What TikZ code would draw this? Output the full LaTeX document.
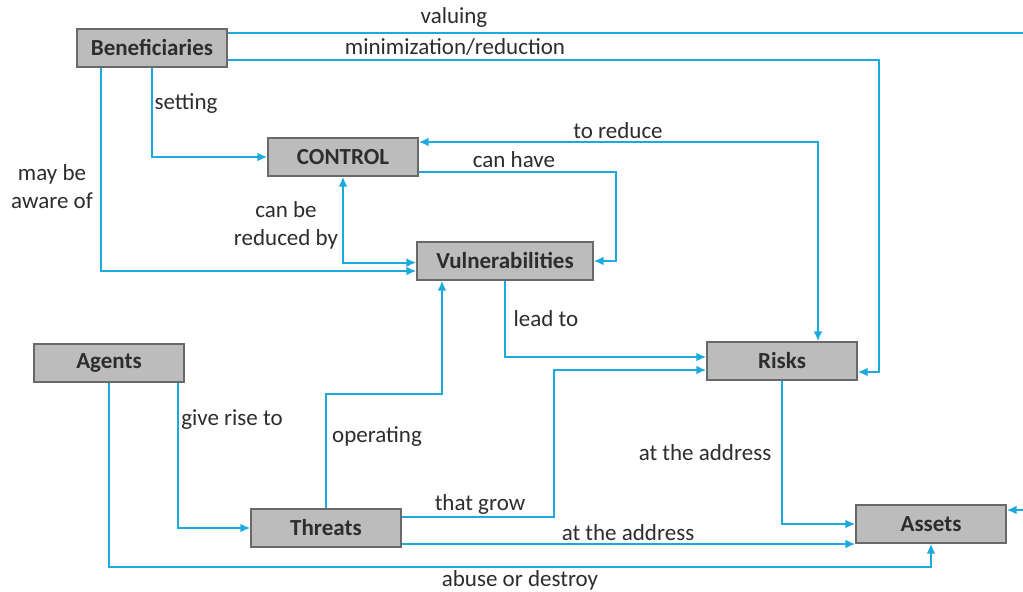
\documentclass[tikz,border=0pt]{standalone}
\usepackage{fontspec}
\setmainfont{Carlito}
\usetikzlibrary{arrows.meta}

\definecolor{linkblue}{RGB}{28,170,222}
\definecolor{boxgray}{RGB}{188,188,188}
\definecolor{boxline}{RGB}{105,105,105}
\definecolor{txtgray}{RGB}{45,45,45}

\tikzset{
	box/.style = {draw = boxline, fill = boxgray, line width = 0.7pt, minimum width = 75pt, minimum height = 19pt, inner sep = 0pt, font = \fontsize{11.5}{13}\selectfont\bfseries, text = txtgray},
	link/.style = {draw = linkblue, line width = 1pt, -{Latex[length = 5pt, width = 4.5pt]}},
	both/.style = {link, {Latex[length = 5pt, width = 4.5pt]}-{Latex[length = 5pt, width = 4.5pt]}},
	lbl/.style = {font = \fontsize{11.5}{14}\selectfont, text = txtgray, align = center, inner sep = 1pt}
}

\begin{document}
\begin{tikzpicture}[x = 0.5pt, y = -0.5pt]
	\clip (0,0) rectangle (1023,592);
	\fill[white] (0,0) rectangle (1023,592);

	\node[box] (BEN) at (152,48) {Beneficiaries};
	\node[box] (CTRL) at (343,157) {CONTROL};
	\node[box, minimum width = 88pt] (VUL) at (505,261) {Vulnerabilities};
	\node[box] (AGT) at (109,363) {Agents};
	\node[box] (RISK) at (782,361) {Risks};
	\node[box] (THR) at (326,528) {Threats};
	\node[box] (AST) at (931,524) {Assets};

	\draw[link] ([yshift = 7.5pt]BEN.east) -- ++(820,0) |- ([yshift = 7pt]AST.east);
	\draw[link] ([yshift = -6pt]BEN.east) -- ++(651,0) |- ([yshift = -5.5pt]RISK.east);
	\draw[link] (BEN.south) |- (CTRL.west);
	\draw[link] ([xshift = -25.5pt]BEN.south) |- ([yshift = -5pt]VUL.west);
	\draw[both] ([yshift = 7.5pt]CTRL.east) -| ([xshift = 18pt]RISK.north);
	\draw[link] ([yshift = -7.5pt]CTRL.east) -- ++(197,0) |- (VUL.east);
	\draw[both] (CTRL.south) |- ([yshift = -0.8pt]VUL.west);
	\draw[link] (VUL.south) |- ([yshift = 2pt]RISK.west);
	\draw[link] (THR.north) -- ++(0,-114) -| ([xshift = -31.5pt]VUL.south);
	\draw[link] ([yshift = 5.5pt]THR.east) -- ++(152,0) |- ([yshift = -4.5pt]RISK.west);
	\draw[link] ([yshift = -8pt]THR.east) -- ([yshift = -10pt]AST.west);
	\draw[link] (RISK.south) |- (AST.west);
	\draw[link] ([xshift = 34.5pt]AGT.south) |- (THR.west);
	\draw[link] (AGT.south) -- ++(0,184) -| (AST.south);

	% labels on the links
	\node[lbl] (L1) at (454,18) {valuing};
	\node[lbl] (L2) at (455,47) {minimization/reduction};
	\node[lbl] (L3) at (186,104) {setting};
	\node[lbl] (L4) at (52,187) {may be\\aware of};
	\node[lbl] (L5) at (618,131) {to reduce};
	\node[lbl] (L6) at (514,160) {can have};
	\node[lbl] (L7) at (286,225) {can be\\reduced by};
	\node[lbl] (L8) at (546,319) {lead to};
	\node[lbl] (L9) at (232,420) {give rise to};
	\node[lbl] (L10) at (377,437) {operating};
	\node[lbl] (L11) at (705,453) {at the address};
	\node[lbl] (L12) at (480,504) {that grow};
	\node[lbl] (L13) at (628,533) {at the address};
	\node[lbl] (L14) at (520,580) {abuse or destroy};
\end{tikzpicture}
\end{document}
